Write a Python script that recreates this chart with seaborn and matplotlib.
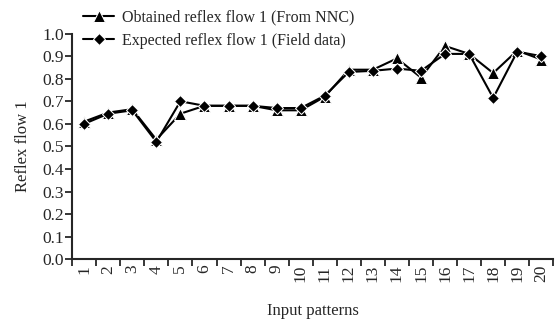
import matplotlib
matplotlib.use("Agg")
import matplotlib.pyplot as plt
import seaborn as sns
import pandas as pd
import numpy as np

patterns = list(range(1, 21))
obtained = [0.61, 0.65, 0.665, 0.53, 0.645, 0.68, 0.68, 0.68, 0.66, 0.66,
            0.72, 0.84, 0.84, 0.89, 0.805, 0.945, 0.91, 0.825, 0.925, 0.885]
expected = [0.60, 0.645, 0.66, 0.52, 0.70, 0.68, 0.68, 0.68, 0.67, 0.67,
            0.725, 0.83, 0.835, 0.845, 0.835, 0.91, 0.91, 0.715, 0.92, 0.90]
labels = ["Obtained reflex flow 1 (From NNC)", "Expected reflex flow 1 (Field data)"]

sns.set_style("ticks")
plt.rcParams['font.family'] = ['Liberation Serif', 'DejaVu Serif']

df = pd.DataFrame({"x": patterns * 2,
                   "y": obtained + expected,
                   "series": [labels[0]] * 20 + [labels[1]] * 20})

fig = plt.figure(figsize=(5.55, 3.2), dpi=100)
ax = fig.add_axes([0.13, 0.19, 0.867, 0.705])
sns.lineplot(data=df, x="x", y="y", hue="series", style="series",
             markers={labels[0]: "^", labels[1]: "D"}, dashes=False,
             palette={labels[0]: "black", labels[1]: "black"},
             markersize=8.5, linewidth=1.5, ax=ax, legend="auto")
for line in ax.lines:
    if line.get_marker() == "D":
        line.set_markersize(6.5)

ax.set_xlim(0.5, 20.5)
ax.set_ylim(0, 1.0)
ax.set_yticks(np.round(np.arange(0, 1.01, 0.1), 1))
ax.set_yticklabels([f"{v:.1f}" for v in np.arange(0, 1.01, 0.1)], fontsize=12.5)
ax.set_xticks(np.arange(0.5, 21, 1))
ax.set_xticklabels([])
ax.set_xticks(patterns, minor=True)
ax.set_xticklabels([str(p) for p in patterns], minor=True, rotation=90, fontsize=12.5)
ax.tick_params(axis="x", which="minor", length=0, pad=4)
ax.tick_params(axis="both", which="major", length=5, width=1.3, direction="out")
ax.tick_params(axis="y", pad=1)
for s in ["left", "bottom"]:
    ax.spines[s].set_linewidth(1.5)
sns.despine(ax=ax)
ax.set_xlabel("Input patterns", fontsize=12, labelpad=15)
ax.set_ylabel("Reflex flow 1", fontsize=12, labelpad=8)

handles, lbls = ax.get_legend_handles_labels()
leg = ax.legend(handles, lbls, loc="upper left", bbox_to_anchor=(0.01, 1.135), frameon=False,
                fontsize=11.5, handlelength=1.9, handletextpad=0.5,
                labelspacing=0.45, borderaxespad=0)
for h in leg.legend_handles:
    if h.get_marker() == "D":
        h.set_markersize(6.5)

fig.savefig("out.png", dpi=100)
